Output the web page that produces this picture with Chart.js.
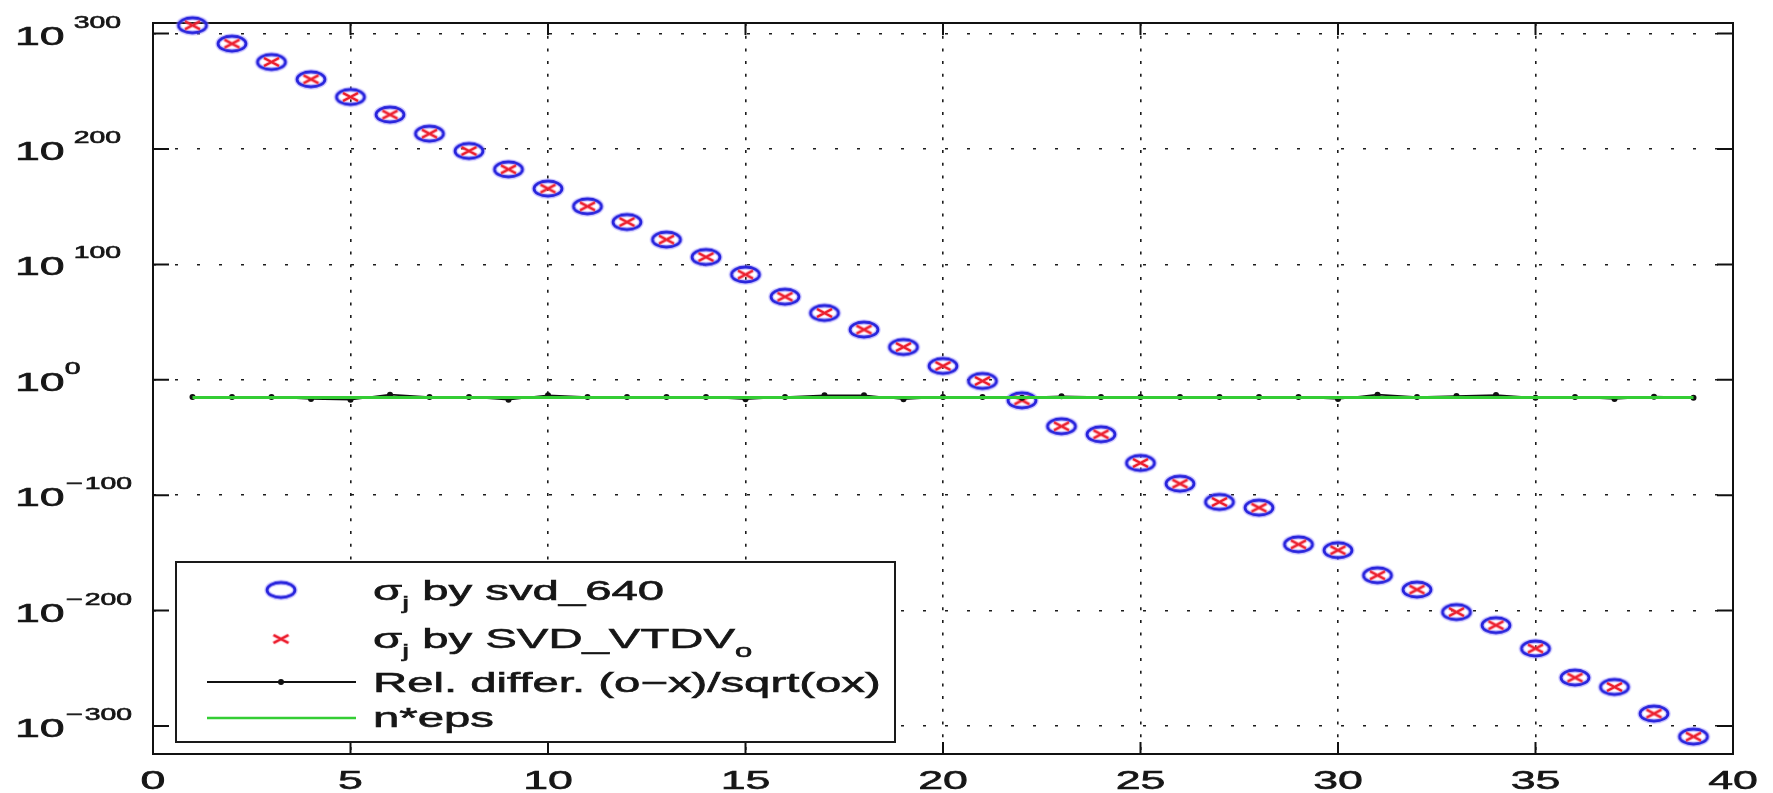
<!DOCTYPE html>
<html>
<head>
<meta charset="utf-8">
<title>Singular values: svd_640 vs SVD_VTDV</title>
<script src="https://cdn.jsdelivr.net/npm/chart.js@4.4.1/dist/chart.umd.min.js"></script>
<style>
  html, body { margin: 0; padding: 0; background: #fff; }
  #wrap { width: 1773px; height: 793px; }
</style>
</head>
<body>
<div id="wrap"><canvas id="svdChart" width="1773" height="793"></canvas></div>
<script>
// index j of the singular value
const jIndex = [1, 2, 3, 4, 5, 6, 7, 8, 9, 10, 11, 12, 13, 14, 15, 16, 17, 18, 19, 20,
                21, 22, 23, 24, 25, 26, 27, 28, 29, 30, 31, 32, 33, 34, 35, 36, 37, 38, 39];

// everything on the y axis is stored as log10 (the axis is 10^-324 .. 10^309)
const sigmaSvd640Exp = [307.2, 291.3, 275.4, 260.4, 245.1, 229.8, 213.3, 198.3, 182.4, 165.7,
                        150.3, 136.7, 121.5, 106.4, 91.2, 72.0, 57.9, 43.5, 28.4, 12.0,
                        -1.0, -17.8, -40.3, -47.2, -72.1, -90.0, -105.9, -110.8, -142.6, -147.7,
                        -169.4, -181.8, -201.3, -212.7, -232.9, -258.1, -266.2, -289.3, -309.2];
const sigmaVtdvExp = [307.2, 291.3, 275.4, 260.4, 245.1, 229.8, 213.3, 198.3, 182.4, 165.7,
                      150.3, 136.7, 121.5, 106.4, 91.2, 72.0, 57.9, 43.5, 28.4, 12.0,
                      -1.0, -17.8, -40.3, -47.2, -72.1, -90.0, -105.9, -110.8, -142.6, -147.7,
                      -169.4, -181.8, -201.3, -212.7, -232.9, -258.1, -266.2, -289.3, -309.2];
const relDiffExp = [-14.9, -14.9, -14.9, -16.6, -17.2, -12.9, -14.9, -14.9, -17.2, -13.4,
                    -14.9, -14.9, -14.9, -14.9, -16.9, -14.9, -13.4, -13.4, -16.9, -14.9,
                    -14.9, -15.5, -14.3, -14.9, -14.9, -14.9, -14.9, -14.9, -14.9, -16.6,
                    -12.9, -14.9, -14.0, -13.2, -15.5, -14.9, -16.6, -14.6, -15.5];
const nEpsExp = -15.3;

const xTicks = [0, 5, 10, 15, 20, 25, 30, 35, 40];
const yTickExps = [300, 200, 100, 0, -100, -200, -300];
const xRange = [0, 40];
const yRange = [-324.3, 309.2];

// legend rows: pieces of text, 'sub' pieces are subscripts
const legendRows = [
  [{ t: 'σ' }, { t: 'j', sub: true }, { t: ' by svd_640' }],
  [{ t: 'σ' }, { t: 'j', sub: true }, { t: ' by SVD_VTDV' }, { t: 'o', sub: true }],
  [{ t: 'Rel. differ. (o−x)/sqrt(ox)' }],
  [{ t: 'n*eps' }]
];

const FONT = '"Liberation Sans", Arial, Helvetica, sans-serif';
const SX = 1.72;   // the original figure is stretched sideways
const TEXT = '#161616';
const BLUE = 'rgb(40, 36, 220)';
const RED = 'rgb(235, 30, 45)';
const GREEN = 'rgb(52, 205, 52)';

function ellipseMarker(w, h) {
  const c = document.createElement('canvas');
  c.width = w + 8; c.height = h + 8;
  const g = c.getContext('2d');
  g.beginPath();
  g.ellipse(c.width / 2, c.height / 2, w / 2, h / 2, 0, 0, Math.PI * 2);
  g.strokeStyle = 'rgba(150, 140, 255, 0.45)';
  g.lineWidth = 5.5;
  g.stroke();
  g.strokeStyle = BLUE;
  g.lineWidth = 2.8;
  g.stroke();
  return c;
}

function crossMarker(w, h) {
  const c = document.createElement('canvas');
  c.width = w + 6; c.height = h + 6;
  const g = c.getContext('2d');
  const x0 = 3, y0 = 3;
  g.beginPath();
  g.moveTo(x0, y0); g.lineTo(x0 + w, y0 + h);
  g.moveTo(x0 + w, y0); g.lineTo(x0, y0 + h);
  g.strokeStyle = 'rgba(255, 120, 140, 0.5)';
  g.lineWidth = 4;
  g.stroke();
  g.strokeStyle = RED;
  g.lineWidth = 2.3;
  g.stroke();
  return c;
}

const circleImg = ellipseMarker(28, 15);
const crossImg = crossMarker(15, 8);

function pts(values) {
  return jIndex.map((j, i) => ({ x: j, y: values[i] }));
}

function textW(ctx, str, size) {
  ctx.font = size + 'px ' + FONT;
  return ctx.measureText(str).width * SX;
}

function drawText(ctx, str, x, y, size, align) {
  ctx.save();
  ctx.font = size + 'px ' + FONT;
  ctx.fillStyle = TEXT;
  ctx.strokeStyle = TEXT;
  ctx.lineWidth = 0.6;
  ctx.textAlign = align || 'left';
  ctx.textBaseline = 'alphabetic';
  ctx.translate(x, y);
  ctx.scale(SX, 1);
  ctx.fillText(str, 0, 0);
  ctx.strokeText(str, 0, 0);
  ctx.restore();
}

const matlabAxes = {
  id: 'matlabAxes',
  beforeDatasetsDraw(chart) {
    const { ctx, chartArea: a, scales: { x, y } } = chart;
    ctx.save();
    ctx.strokeStyle = '#111';
    ctx.lineWidth = 2;
    ctx.strokeRect(a.left, a.top, a.right - a.left, a.bottom - a.top);
    ctx.beginPath();
    xTicks.forEach(v => {
      const px = x.getPixelForValue(v);
      ctx.moveTo(px, a.bottom); ctx.lineTo(px, a.bottom - 12);
      ctx.moveTo(px, a.top); ctx.lineTo(px, a.top + 12);
    });
    yTickExps.forEach(v => {
      const py = y.getPixelForValue(v);
      ctx.moveTo(a.left, py); ctx.lineTo(a.left + 16, py);
      ctx.moveTo(a.right, py); ctx.lineTo(a.right - 16, py);
    });
    ctx.stroke();
    ctx.restore();
  },
  afterDraw(chart) {
    const { ctx, scales: { x, y } } = chart;

    // x tick labels
    xTicks.forEach(v => drawText(ctx, String(v), x.getPixelForValue(v), 789, 26, 'center'));

    // y tick labels 10^n
    yTickExps.forEach(v => {
      const py = y.getPixelForValue(v);
      const x0 = 15;
      drawText(ctx, '10', x0, py + 11, 26, 'left');
      const ex = x0 + textW(ctx, '10', 26);
      if (v < 0) {
        drawText(ctx, '−', ex + 1, py - 6, 17, 'left');
        drawText(ctx, String(-v), ex + 20, py - 6, 16.5, 'left');
      } else {
        drawText(ctx, String(v), ex + (v > 0 ? 9 : 0), py - 6, 16.5, 'left');
      }
    });

    // legend box
    const box = { left: 176, top: 562, right: 895, bottom: 742 };
    ctx.save();
    ctx.fillStyle = '#fff';
    ctx.fillRect(box.left, box.top, box.right - box.left, box.bottom - box.top);
    ctx.strokeStyle = '#1a1a1a';
    ctx.lineWidth = 2;
    ctx.strokeRect(box.left, box.top, box.right - box.left, box.bottom - box.top);

    const symX = 281, lineL = 207, lineR = 356, textX = 373;
    const symY = [590, 639, 682, 718];
    const baseY = [600, 648, 692, 727];

    ctx.drawImage(circleImg, symX - circleImg.width / 2, symY[0] - circleImg.height / 2);
    ctx.drawImage(crossImg, symX - crossImg.width / 2, symY[1] - crossImg.height / 2);

    ctx.strokeStyle = '#111';
    ctx.lineWidth = 1.8;
    ctx.beginPath(); ctx.moveTo(lineL, symY[2]); ctx.lineTo(lineR, symY[2]); ctx.stroke();
    ctx.fillStyle = '#111';
    ctx.beginPath(); ctx.arc(symX, symY[2], 3, 0, Math.PI * 2); ctx.fill();

    ctx.strokeStyle = GREEN;
    ctx.lineWidth = 2.5;
    ctx.beginPath(); ctx.moveTo(lineL, symY[3]); ctx.lineTo(lineR, symY[3]); ctx.stroke();
    ctx.restore();

    legendRows.forEach((row, r) => {
      let cx = textX;
      row.forEach(p => {
        const size = p.sub ? 18 : 27.5;
        const yy = baseY[r] + (p.sub ? 9 : 0);
        drawText(ctx, p.t, cx, yy, size, 'left');
        cx += textW(ctx, p.t, size);
      });
    });
  }
};

const ctx = document.getElementById('svdChart').getContext('2d');
new Chart(ctx, {
  type: 'scatter',
  data: {
    datasets: [
      {
        label: 'n*eps',
        data: jIndex.map(j => ({ x: j, y: nEpsExp })),
        showLine: true,
        borderColor: GREEN,
        borderWidth: 3,
        pointRadius: 0,
        clip: false
      },
      {
        label: 'Rel. differ. (o-x)/sqrt(ox)',
        data: pts(relDiffExp),
        showLine: true,
        borderColor: '#111',
        borderWidth: 1.6,
        pointRadius: 3,
        pointBackgroundColor: '#111',
        pointBorderWidth: 0,
        clip: false
      },
      {
        label: 'sigma_j by SVD_VTDV_o',
        data: pts(sigmaVtdvExp),
        showLine: false,
        pointStyle: crossImg,
        pointRadius: 8,
        clip: false
      },
      {
        label: 'sigma_j by svd_640',
        data: pts(sigmaSvd640Exp),
        showLine: false,
        pointStyle: circleImg,
        pointRadius: 8,
        clip: false
      }
    ]
  },
  options: {
    responsive: false,
    animation: false,
    events: [],
    layout: { padding: { left: 153, top: 23, right: 40, bottom: 39 } },
    plugins: {
      legend: { display: false },
      tooltip: { enabled: false }
    },
    scales: {
      x: {
        type: 'linear',
        min: xRange[0],
        max: xRange[1],
        afterBuildTicks: s => { s.ticks = xTicks.map(v => ({ value: v })); },
        ticks: { display: false },
        grid: { color: '#1c1c1c', lineWidth: 1.6, drawTicks: false },
        border: { display: false, dash: [3, 9.7] }
      },
      y: {
        type: 'linear',
        min: yRange[0],
        max: yRange[1],
        afterBuildTicks: s => { s.ticks = yTickExps.map(v => ({ value: v })); },
        ticks: { display: false },
        grid: { color: '#1c1c1c', lineWidth: 1.6, drawTicks: false },
        border: { display: false, dash: [3, 19] }
      }
    }
  },
  plugins: [matlabAxes]
});
</script>
</body>
</html>
